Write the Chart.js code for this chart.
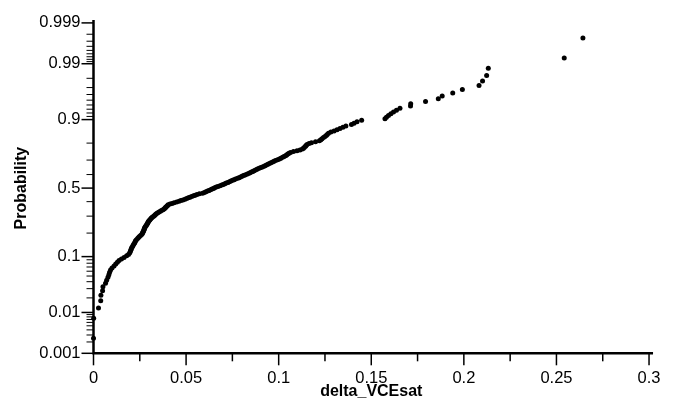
<!DOCTYPE html>
<html>
<head>
<meta charset="utf-8">
<script src="https://cdn.jsdelivr.net/npm/chart.js@4.4.1/dist/chart.umd.min.js"></script>
<style>
  html, body { margin: 0; padding: 0; background: #fff; }
  #wrap { width: 676px; height: 403px; }
</style>
</head>
<body>
<div id="wrap"><canvas id="probPlot" width="676" height="403"></canvas></div>
<script>
// sorted delta_VCEsat readings (n = 200)
const deltaVCEsat = [
  0.0000, 0.0001, 0.0027, 0.0039, 0.0040, 0.0049, 0.0051, 0.0065, 0.0071, 0.0078,
  0.0083, 0.0087, 0.0092, 0.0100, 0.0111, 0.0120, 0.0129, 0.0138, 0.0151, 0.0165,
  0.0179, 0.0189, 0.0195, 0.0199, 0.0201, 0.0204, 0.0206, 0.0211, 0.0214, 0.0218,
  0.0222, 0.0225, 0.0227, 0.0232, 0.0238, 0.0243, 0.0248, 0.0254, 0.0260, 0.0264,
  0.0266, 0.0268, 0.0271, 0.0273, 0.0274, 0.0276, 0.0278, 0.0281, 0.0285, 0.0288,
  0.0290, 0.0293, 0.0295, 0.0298, 0.0301, 0.0305, 0.0309, 0.0313, 0.0317, 0.0323,
  0.0328, 0.0332, 0.0336, 0.0341, 0.0347, 0.0354, 0.0361, 0.0367, 0.0375, 0.0381,
  0.0385, 0.0389, 0.0391, 0.0396, 0.0400, 0.0403, 0.0413, 0.0424, 0.0435, 0.0449,
  0.0462, 0.0472, 0.0483, 0.0494, 0.0503, 0.0512, 0.0521, 0.0530, 0.0540, 0.0549,
  0.0559, 0.0572, 0.0589, 0.0599, 0.0607, 0.0616, 0.0624, 0.0632, 0.0640, 0.0648,
  0.0654, 0.0663, 0.0672, 0.0683, 0.0693, 0.0701, 0.0709, 0.0717, 0.0726, 0.0734,
  0.0742, 0.0751, 0.0759, 0.0767, 0.0778, 0.0786, 0.0794, 0.0802, 0.0810, 0.0818,
  0.0828, 0.0837, 0.0845, 0.0853, 0.0860, 0.0867, 0.0875, 0.0883, 0.0891, 0.0900,
  0.0909, 0.0918, 0.0926, 0.0934, 0.0942, 0.0950, 0.0958, 0.0967, 0.0975, 0.0983,
  0.0994, 0.1004, 0.1012, 0.1021, 0.1029, 0.1037, 0.1043, 0.1049, 0.1056, 0.1064,
  0.1080, 0.1099, 0.1115, 0.1128, 0.1134, 0.1139, 0.1145, 0.1148, 0.1153, 0.1164,
  0.1177, 0.1199, 0.1220, 0.1228, 0.1234, 0.1242, 0.1250, 0.1257, 0.1262, 0.1269,
  0.1282, 0.1299, 0.1315, 0.1331, 0.1347, 0.1363, 0.1393, 0.1407, 0.1423, 0.1448,
  0.1574, 0.1582, 0.1593, 0.1606, 0.1620, 0.1636, 0.1655, 0.1712, 0.1713, 0.1793,
  0.1862, 0.1883, 0.1940, 0.1992, 0.2082, 0.2101, 0.2123, 0.2132, 0.2542, 0.2643
];

const yTickProbs = [0.001, 0.01, 0.1, 0.5, 0.9, 0.99, 0.999];
const yTickLabels = ['0.001', '0.01', '0.1', '0.5', '0.9', '0.99', '0.999'];
const yMinorProbs = [
  0.002, 0.003, 0.004, 0.005, 0.006, 0.007, 0.008, 0.009,
  0.02, 0.03, 0.04, 0.05, 0.06, 0.07, 0.08, 0.09,
  0.2, 0.3, 0.4, 0.6, 0.7, 0.8,
  0.91, 0.92, 0.93, 0.94, 0.95, 0.96, 0.97, 0.98,
  0.991, 0.992, 0.993, 0.994, 0.995, 0.996, 0.997, 0.998
];
const xTickValues = [0, 0.05, 0.1, 0.15, 0.2, 0.25, 0.3];
const xTickLabels = ['0', '0.05', '0.1', '0.15', '0.2', '0.25', '0.3'];
const xMinorValues = [0.025, 0.075, 0.125, 0.175, 0.225, 0.275];

const FONT = "'Liberation Sans', Arial, sans-serif";

// inverse standard normal CDF (Acklam's rational approximation)
function probit(p) {
  const a = [-3.969683028665376e+01, 2.209460984245205e+02, -2.759285104469687e+02,
             1.383577518672690e+02, -3.066479806614716e+01, 2.506628277459239e+00];
  const b = [-5.447609879822406e+01, 1.615858368580409e+02, -1.556989798598866e+02,
             6.680131188771972e+01, -1.328068155288572e+01];
  const c = [-7.784894002430293e-03, -3.223964580411365e-01, -2.400758277161838e+00,
             -2.549671875319802e+00, 4.374664141464968e+00, 2.938163982698783e+00];
  const d = [7.784695709041462e-03, 3.224671290700398e-01, 2.445134137142996e+00,
             3.754408661907416e+00];
  const pLow = 0.02425;
  let q, r;
  if (p < pLow) {
    q = Math.sqrt(-2 * Math.log(p));
    return (((((c[0]*q + c[1])*q + c[2])*q + c[3])*q + c[4])*q + c[5]) /
           ((((d[0]*q + d[1])*q + d[2])*q + d[3])*q + 1);
  }
  if (p <= 1 - pLow) {
    q = p - 0.5;
    r = q * q;
    return (((((a[0]*r + a[1])*r + a[2])*r + a[3])*r + a[4])*r + a[5]) * q /
           (((((b[0]*r + b[1])*r + b[2])*r + b[3])*r + b[4])*r + 1);
  }
  q = Math.sqrt(-2 * Math.log(1 - p));
  return -(((((c[0]*q + c[1])*q + c[2])*q + c[3])*q + c[4])*q + c[5]) /
          ((((d[0]*q + d[1])*q + d[2])*q + d[3])*q + 1);
}

// Hazen plotting positions (i - 0.5) / n for the sorted readings
const n = deltaVCEsat.length;
const points = deltaVCEsat.map((v, i) => ({ x: v, y: probit((i + 0.5) / n) }));

// axis lines plus major/minor tick marks pointing outward
const axisMarks = {
  id: 'axisMarks',
  afterDraw(chart) {
    const { ctx, chartArea: area, scales: { x, y } } = chart;
    ctx.save();
    ctx.strokeStyle = '#000';
    ctx.lineCap = 'butt';

    const yMark = (p, len, w) => {
      const py = y.getPixelForValue(probit(p));
      ctx.lineWidth = w;
      ctx.beginPath();
      ctx.moveTo(area.left, py);
      ctx.lineTo(area.left - len, py);
      ctx.stroke();
    };
    const xMark = (v, len, w) => {
      const px = x.getPixelForValue(v);
      ctx.lineWidth = w;
      ctx.beginPath();
      ctx.moveTo(px, area.bottom);
      ctx.lineTo(px, area.bottom + len);
      ctx.stroke();
    };
    yMinorProbs.forEach(p => yMark(p, 7, 1));
    yTickProbs.forEach(p => yMark(p, 12, 1.5));
    xMinorValues.forEach(v => xMark(v, 8, 1.5));
    xTickValues.forEach(v => xMark(v, 12, 1.5));

    ctx.lineWidth = 2.5;
    ctx.beginPath();
    ctx.moveTo(area.left, area.top - 3);
    ctx.lineTo(area.left, area.bottom);
    ctx.lineTo(area.right + 4, area.bottom);
    ctx.stroke();
    ctx.restore();
  }
};

const ctx = document.getElementById('probPlot').getContext('2d');
const probPlot = new Chart(ctx, {
  type: 'scatter',
  data: {
    datasets: [{
      label: 'delta_VCEsat',
      data: points,
      backgroundColor: '#000',
      borderWidth: 0,
      pointRadius: 2.5,
      pointHoverRadius: 2.5,
      clip: false
    }]
  },
  options: {
    responsive: false,
    animation: false,
    events: [],
    layout: { padding: { top: 15.6, right: 26.7, bottom: 0, left: 0 } },
    plugins: {
      legend: { display: false },
      tooltip: { enabled: false }
    },
    scales: {
      x: {
        type: 'linear',
        min: 0,
        max: 0.3,
        afterFit: s => { s.height = 49.7; },
        afterBuildTicks: s => { s.ticks = xTickValues.map(v => ({ value: v })); },
        grid: { display: false, drawTicks: false },
        border: { display: false },
        ticks: {
          color: '#000',
          padding: 15.5,
          maxRotation: 0,
          autoSkip: false,
          font: { family: FONT, size: 16.5 },
          callback: (v, i) => xTickLabels[i]
        },
        title: {
          display: true,
          text: 'delta_VCEsat',
          color: '#000',
          font: { family: FONT, size: 16, weight: 'bold' },
          padding: { top: 0, bottom: 2 }
        }
      },
      y: {
        type: 'linear',
        min: probit(0.001),
        max: probit(0.999),
        afterFit: s => { s.width = 93.5; },
        afterBuildTicks: s => { s.ticks = yTickProbs.map(p => ({ value: probit(p) })); },
        grid: { display: false, drawTicks: false },
        border: { display: false },
        ticks: {
          color: '#000',
          padding: 13,
          autoSkip: false,
          font: { family: FONT, size: 16.5 },
          callback: (v, i) => yTickLabels[i]
        },
        title: {
          display: true,
          text: 'Probability',
          color: '#000',
          font: { family: FONT, size: 16, weight: 'bold' },
          padding: { top: 12, bottom: 0 }
        }
      }
    }
  },
  plugins: [axisMarks]
});
</script>
</body>
</html>
